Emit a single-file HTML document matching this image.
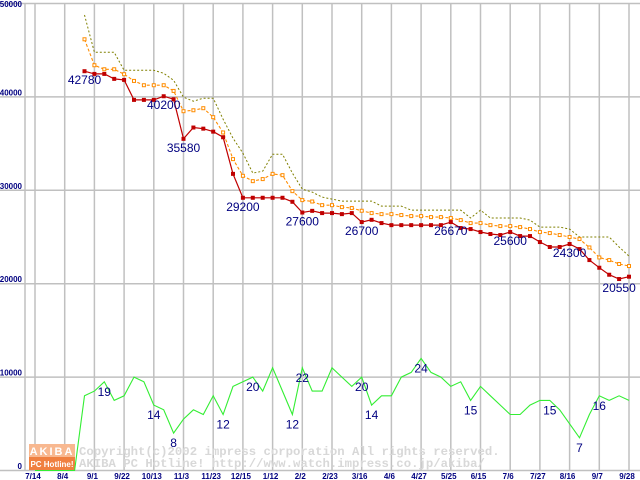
<!DOCTYPE html>
<html><head><meta charset="utf-8"><style>
html,body{margin:0;padding:0;background:#fff;}
svg{display:block;}
</style></head><body>
<svg id="chart" width="640" height="480" xmlns="http://www.w3.org/2000/svg" font-family="'Liberation Sans', sans-serif">
<g id="grid"></g>
<g id="logo">
<rect x="29" y="444" width="46" height="13" fill="#f8b890"/>
<text x="52" y="455" font-size="11" font-weight="bold" fill="#fff" text-anchor="middle" letter-spacing="2">AKIBA</text>
<rect x="29" y="457" width="46" height="13" fill="#f08040"/>
<text x="52" y="467" font-size="8" font-weight="bold" fill="#fff" text-anchor="middle">PC Hotline!</text>
</g>
<text x="79" y="455" font-family="'Liberation Mono', monospace" font-size="12.3" font-weight="bold" fill="#d8d8d8">Copyright(c)2002 impress corporation All rights reserved.</text>
<text x="79" y="467" font-family="'Liberation Mono', monospace" font-size="12.3" font-weight="bold" fill="#d8d8d8">AKIBA PC Hotline!  http://www.watch.impress.co.jp/akiba/</text>
<g id="series"></g>
<g id="labels"></g>
</svg>
<script>
const xTicks = ["7/14","8/4","9/1","9/22","10/13","11/3","11/23","12/15","1/12","2/2","2/23","3/16","4/6","4/27","5/25","6/15","7/6","7/27","8/16","9/7","9/28"];
const yTicks = [0,10000,20000,30000,40000,50000];
const startIndex = 5;
const minPrice = [42750,42460,42460,41930,41820,39680,39680,39680,40070,39750,35510,36720,36600,36280,35680,31760,29200,29200,29200,29200,29200,28770,27620,27800,27560,27560,27450,27560,26600,26840,26490,26270,26270,26270,26270,26270,26270,26600,25960,25850,25530,25320,25210,25530,25100,25100,24460,23930,23930,24250,23710,22530,21710,20960,20500,20750];
const avgPrice = [46170,43390,42960,42960,42430,41710,41250,41250,41250,40640,38470,38570,38790,37830,36190,33340,31550,30980,31200,31760,31620,29910,28950,28800,28410,28410,28200,28100,27810,27560,27450,27450,27350,27240,27240,27130,27130,27030,26810,26490,26490,26270,26170,26170,26060,25850,25530,25420,25210,25000,24780,23880,22810,22530,22110,21890];
const maxPrice = [48770,44780,44780,44780,42850,42850,42850,42850,42530,41780,39970,39540,39860,39860,37610,35580,33980,31840,32050,33870,33870,31840,30130,29810,29270,29060,28840,28840,28840,28840,28310,28310,28310,27880,27880,27880,27880,27880,27880,27030,27880,27030,27030,27030,27030,26810,26060,26060,26060,25850,25000,25000,25000,25000,23930,22960];
const shopCount = [0,0,0,0,0,16,17,19,15,16,20,19,14,13,8,11,13,12,16,12,18,19,20,17,22,17,12,22,17,17,22,20,18,20,14,16,16,20,21,24,21,20,18,19,15,18,16,14,12,12,14,15,15,13,10,7,12,16,15,16,15];
const countScale = 500;
const priceLabelIdx = [5,13,15,21,27,33,42,48,54,59];
const priceLabelText = ["42780","40200","35580","29200","27600","26700","26670","25600","24300","20550"];
const countLabelIdx = [7,12,14,19,22,26,27,33,34,39,44,52,55,57];

const NS="http://www.w3.org/2000/svg";
const X0=35, STEP=29.7/3, Y0=470.5, YS=93.4/10000;
const xs=k=>X0+k*STEP;
const ys=v=>Y0-v*YS;
function mk(tag,attrs,parent){const e=document.createElementNS(NS,tag);for(const a in attrs)e.setAttribute(a,attrs[a]);parent.appendChild(e);return e;}
const grid=document.getElementById('grid'),series=document.getElementById('series'),labels=document.getElementById('labels');

yTicks.forEach(v=>{
  const l=mk('line',{x1:0,x2:640,y1:ys(v),y2:ys(v),stroke:'#c0c0c0','stroke-width':1.5},grid);
  
  
  const t=mk('text',{x:22,y:Math.max(ys(v)-1.5,7),'font-size':8,'font-weight':'bold',fill:'#000080','text-anchor':'end'},grid);
  t.textContent=v;
  
  
});
mk('line',{x1:25,x2:25,y1:4,y2:471,stroke:'#c0c0c0','stroke-width':1.5},grid);
xTicks.forEach((s,i)=>{
  const x=xs(i*3);
  const l=mk('line',{x1:x,x2:x,y1:4,y2:471,stroke:'#c0c0c0','stroke-width':1.5},grid);
  
  
  const t=mk('text',{x:x-2,y:479,'font-size':8,'font-weight':'bold',fill:'#000080','text-anchor':'middle'},grid);
  t.textContent=s;
  
  
});

function pts(arr,off,scale){return arr.map((v,i)=>xs(i+off).toFixed(1)+','+ys(v*scale).toFixed(1)).join(' ');}
const g=mk('polyline',{points:pts(shopCount,0,countScale),fill:'none',stroke:'#33ee33','stroke-width':1.1},series);


const mx=mk('polyline',{points:pts(maxPrice,startIndex,1),fill:'none',stroke:'#808000','stroke-width':1,'stroke-dasharray':'2,2'},series);


const av=mk('polyline',{points:pts(avgPrice,startIndex,1),fill:'none',stroke:'#ff8c00','stroke-width':1.1,'stroke-dasharray':'3,2'},series);


avgPrice.forEach((v,i)=>{
  const r=mk('rect',{x:xs(i+startIndex)-1.5,y:ys(v)-1.5,width:3,height:3,fill:'#fff',stroke:'#ff8c00','stroke-width':1},series);
  
  
});
const mn=mk('polyline',{points:pts(minPrice,startIndex,1),fill:'none',stroke:'#c00000','stroke-width':1.2},series);


minPrice.forEach((v,i)=>{
  const r=mk('rect',{x:xs(i+startIndex)-2,y:ys(v)-2,width:4,height:4,fill:'#c00000'},series);
  
  
});
priceLabelIdx.forEach((k,j)=>{
  const t=mk('text',{x:xs(k),y:ys(minPrice[k-startIndex])+13,'font-size':12,fill:'#000080','text-anchor':'middle'},labels);
  t.textContent=priceLabelText[j];
  
  
});
countLabelIdx.forEach(k=>{
  const t=mk('text',{x:xs(k),y:ys(shopCount[k]*countScale)+14,'font-size':12,fill:'#000080','text-anchor':'middle'},labels);
  t.textContent=shopCount[k];
  
  
});
</script>
</body></html>
